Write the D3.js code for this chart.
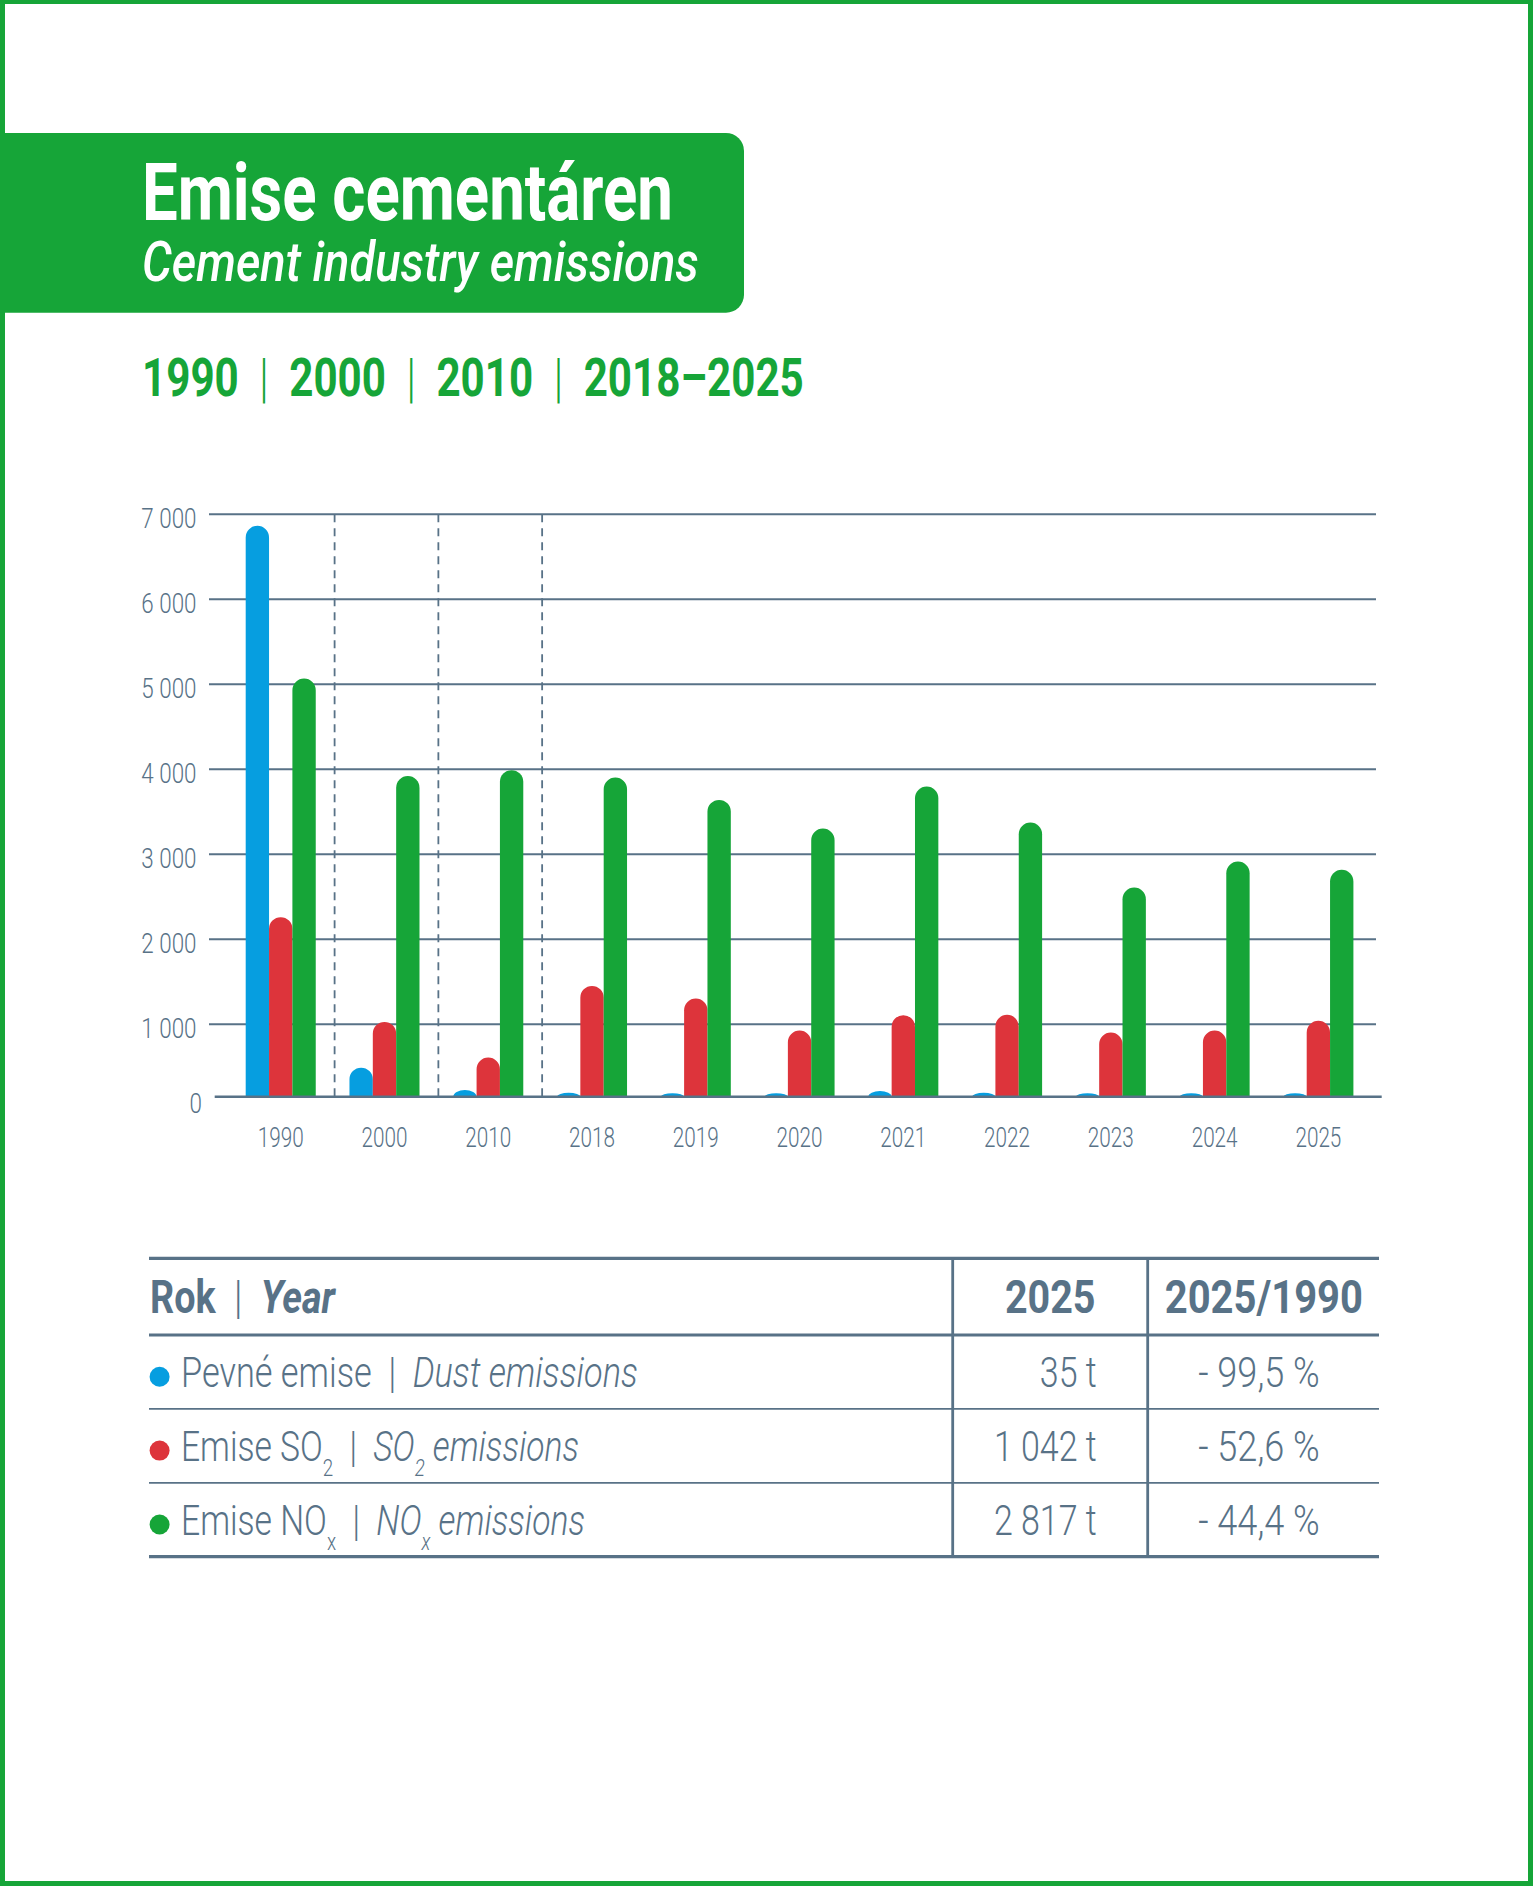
<!DOCTYPE html>
<html>
<head>
<meta charset="utf-8">
<script src="https://cdn.jsdelivr.net/npm/d3@7"></script>
<style>
  body { margin: 0; background: #fff; }
  svg { display: block; font-family: Roboto, "Noto Sans", sans-serif; }
  svg text { white-space: pre; }
</style>
</head>
<body>
<svg id="chart" width="1535" height="1890"></svg>
<script>
// data
var years = ['1990', '2000', '2010', '2018', '2019', '2020', '2021', '2022', '2023', '2024', '2025'];
var dust = [6865, 490, 227, 195, 190, 190, 215, 195, 190, 190, 190];
var so2  = [2260, 1028, 608, 1452, 1303, 926, 1107, 1111, 903, 926, 1042];
var nox  = [5067, 3920, 3990, 3903, 3640, 3303, 3797, 3374, 2609, 2915, 2817];
var yTicks = [0, 1000, 2000, 3000, 4000, 5000, 6000, 7000];
var splitAfter = ['1990', '2000', '2010'];

// table
var rowNamesCz = ['Pevné emise', 'Emise SO_{2}', 'Emise NO_{x}'];
var rowNamesEn = ['Dust emissions', 'SO_{2} emissions', 'NO_{x} emissions'];
var rowWidths = [457, 398, 404];
var value2025 = [35, 1042, 2817];
var change = [-99.5, -52.6, -44.4];

var GREEN = '#16a538', BLUE = '#069ee0', RED = '#dd343b', SLATE = '#587287';
var seriesColors = [BLUE, RED, GREEN];
var series = [dust, so2, nox];

var svg = d3.select('#chart');

// squeeze a text horizontally (the original uses a condensed face)
function squeeze(sel, x, y, sx) {
    sel.attr('x', 0).attr('y', 0)
        .attr('transform', 'translate(' + x + ',' + y + ') scale(' + sx + ',1)');
}
function fitTo(sel, x, y, width) {
    var w = sel.node().getBBox().width;
    squeeze(sel, x, y, width / w);
}
// writes "abc_{2} def" with real subscripts, returns the dy still owed to the next tspan
function richText(sel, str, subSize, carry) {
    var parts = str.split(/_\{(.*?)\}/);
    var owed = carry || 0;
    parts.forEach(function(p, i) {
        if (p === '') return;
        if (i % 2 === 1) {
            sel.append('tspan').attr('dy', 15 + owed).attr('font-size', subSize).text(p);
            owed = -15;
        } else {
            sel.append('tspan').attr('dy', owed).text(p);
            owed = 0;
        }
    });
    return owed;
}

// page frame
svg.append('rect')
    .attr('x', 2.5).attr('y', 1.5)
    .attr('width', 1528).attr('height', 1882)
    .attr('fill', 'none').attr('stroke', GREEN).attr('stroke-width', 5);

// title box
svg.append('path')
    .attr('d', 'M0,133 H726 A18,18 0 0 1 744,151 V294.7 A18,18 0 0 1 726,312.7 H0 Z')
    .attr('fill', GREEN);

var t1 = svg.append('text').attr('fill', '#fff').attr('font-weight', 700)
    .attr('font-size', 80).text('Emise cementáren');
fitTo(t1, 142, 219.5, 531);

var t2 = svg.append('text').attr('fill', '#fff').attr('font-weight', 500)
    .attr('font-style', 'italic').attr('font-size', 56).text('Cement industry emissions');
fitTo(t2, 142, 281, 557);

var t3 = svg.append('text').attr('fill', GREEN).attr('font-weight', 700).attr('font-size', 54);
['1990', '2000', '2010', '2018–2025'].forEach(function(s, i) {
    if (i > 0) t3.append('tspan').attr('font-weight', 300).text('  |  ');
    t3.append('tspan').text(s);
});
fitTo(t3, 142, 395.5, 662);

// chart
var y = d3.scaleLinear().domain([0, 7000]).range([1109.3, 514.3]);
var baseValue = 148;              // the drawn zero line sits here on the value scale
var baseY = y(baseValue);

var x = d3.scaleBand().domain(years).range([245.7, 1353.4])
    .paddingInner(0.325).paddingOuter(0);
var xs = d3.scaleBand().domain([0, 1, 2]).range([0, x.bandwidth()]);

// grid
svg.append('g').selectAll('line')
    .data(yTicks.filter(function(d) { return d > 0; }))
    .enter().append('line')
    .attr('x1', 209).attr('x2', 1376)
    .attr('y1', function(d) { return y(d); }).attr('y2', function(d) { return y(d); })
    .attr('stroke', SLATE).attr('stroke-width', 2);

// group separators
svg.append('g').selectAll('line')
    .data(splitAfter)
    .enter().append('line')
    .attr('x1', function(d) { return x(d) + x.bandwidth() + (x.step() - x.bandwidth()) / 2 + 2; })
    .attr('x2', function(d) { return x(d) + x.bandwidth() + (x.step() - x.bandwidth()) / 2 + 2; })
    .attr('y1', y(7000)).attr('y2', baseY)
    .attr('stroke', SLATE).attr('stroke-width', 1.8)
    .attr('stroke-dasharray', '8,6');

// y labels
var fmt = function(d) { return d3.format(',')(d).replace(/,/g, ' '); };
svg.append('g').selectAll('text')
    .data(yTicks)
    .enter().append('text')
    .attr('fill', SLATE).attr('font-weight', 300).attr('font-size', 28)
    .attr('text-anchor', 'end')
    .text(fmt)
    .each(function(d) {
        var ty = d === 0 ? baseY + 16 : y(d) + 14;
        squeeze(d3.select(this), d === 0 ? 202 : 196.5, ty, 0.8);
    });

// bars with rounded tops
function barPath(x0, w, top, bottom) {
    var h = bottom - top;
    var r = Math.min(w / 2, h);
    return 'M' + x0 + ',' + bottom +
        'V' + (top + r) +
        'A' + (w / 2) + ',' + r + ' 0 0 1 ' + (x0 + w / 2) + ',' + top +
        'A' + (w / 2) + ',' + r + ' 0 0 1 ' + (x0 + w) + ',' + (top + r) +
        'V' + bottom + 'Z';
}
var groups = svg.append('g').selectAll('g')
    .data(years)
    .enter().append('g')
    .attr('transform', function(d) { return 'translate(' + x(d) + ',0)'; });

groups.selectAll('path')
    .data(function(d, i) { return series.map(function(s, k) { return {k: k, v: s[i]}; }); })
    .enter().append('path')
    .attr('fill', function(d) { return seriesColors[d.k]; })
    .attr('d', function(d) {
        var top = Math.min(y(d.v), baseY - 3);
        return barPath(xs(d.k), xs.bandwidth(), top, baseY);
    });

// baseline
svg.append('line')
    .attr('x1', 214.7).attr('x2', 1381.7)
    .attr('y1', baseY).attr('y2', baseY)
    .attr('stroke', SLATE).attr('stroke-width', 2.4);

// x labels
svg.append('g').selectAll('text')
    .data(years)
    .enter().append('text')
    .attr('fill', SLATE).attr('font-weight', 300).attr('font-size', 28)
    .attr('text-anchor', 'middle')
    .text(function(d) { return d; })
    .each(function(d) { squeeze(d3.select(this), x(d) + x.bandwidth() / 2, 1146.7, 0.74); });

// table
var tableLeft = 149, tableRight = 1379, col1 = 952.7, col2 = 1147.7;
var tableTop = 1258.3, headBottom = 1335, rowH = 73.9;
var rowLines = d3.range(1, rowNamesCz.length).map(function(i) { return headBottom + rowH * i; });
var tableBottom = headBottom + rowH * rowNamesCz.length;

var tb = svg.append('g');
tb.append('line').attr('x1', tableLeft).attr('x2', tableRight)
    .attr('y1', tableTop).attr('y2', tableTop).attr('stroke', SLATE).attr('stroke-width', 3.3);
tb.append('line').attr('x1', tableLeft).attr('x2', tableRight)
    .attr('y1', headBottom).attr('y2', headBottom).attr('stroke', SLATE).attr('stroke-width', 2.8);
tb.selectAll('.rl').data(rowLines).enter().append('line').attr('class', 'rl')
    .attr('x1', tableLeft).attr('x2', tableRight)
    .attr('y1', function(d) { return d; }).attr('y2', function(d) { return d; })
    .attr('stroke', SLATE).attr('stroke-width', 1.8);
tb.append('line').attr('x1', tableLeft).attr('x2', tableRight)
    .attr('y1', tableBottom).attr('y2', tableBottom).attr('stroke', SLATE).attr('stroke-width', 3.3);
tb.selectAll('.cl').data([col1, col2]).enter().append('line').attr('class', 'cl')
    .attr('x1', function(d) { return d; }).attr('x2', function(d) { return d; })
    .attr('y1', tableTop).attr('y2', tableBottom)
    .attr('stroke', SLATE).attr('stroke-width', 2.8);

// header
var headY = 1313.3;
var h1 = tb.append('text').attr('fill', SLATE).attr('font-weight', 700).attr('font-size', 47);
h1.append('tspan').text('Rok');
h1.append('tspan').attr('font-weight', 300).text('  |  ');
h1.append('tspan').attr('font-style', 'italic').text('Year');
fitTo(h1, 150, headY, 186);

var h2 = tb.append('text').attr('fill', SLATE).attr('font-weight', 700).attr('font-size', 47)
    .attr('text-anchor', 'middle').text('2025');
squeeze(h2, (col1 + col2) / 2, headY, 0.84);
var h3 = tb.append('text').attr('fill', SLATE).attr('font-weight', 700).attr('font-size', 47)
    .attr('text-anchor', 'middle').text('2025/1990');
squeeze(h3, (col2 + tableRight) / 2 + 0.5, headY, 0.85);

// rows
var rowBase = function(i) { return headBottom + rowH * i + 51.7; };
rowNamesCz.forEach(function(name, i) {
    var by = rowBase(i);
    tb.append('circle').attr('cx', 159.6).attr('cy', by - 10).attr('r', 10)
        .attr('fill', seriesColors[i]);

    var tx = tb.append('text').attr('fill', SLATE).attr('font-weight', 300).attr('font-size', 43);
    var owed = richText(tx, name, 24);
    tx.append('tspan').attr('dy', owed).text('  |  ');
    var en = tx.append('tspan').attr('font-style', 'italic');
    richText(en, rowNamesEn[i], 24);
    fitTo(tx, 181, by, rowWidths[i]);

    var v = tb.append('text').attr('fill', SLATE).attr('font-weight', 300).attr('font-size', 43)
        .attr('text-anchor', 'end').text(fmt(value2025[i]) + ' t');
    squeeze(v, 1096.7, by, 0.79);

    var c = tb.append('text').attr('fill', SLATE).attr('font-weight', 300).attr('font-size', 43)
        .attr('text-anchor', 'middle')
        .text('- ' + d3.format('.1f')(Math.abs(change[i])).replace('.', ',') + ' %');
    squeeze(c, 1259, by, 0.84);
});
</script>
</body>
</html>
